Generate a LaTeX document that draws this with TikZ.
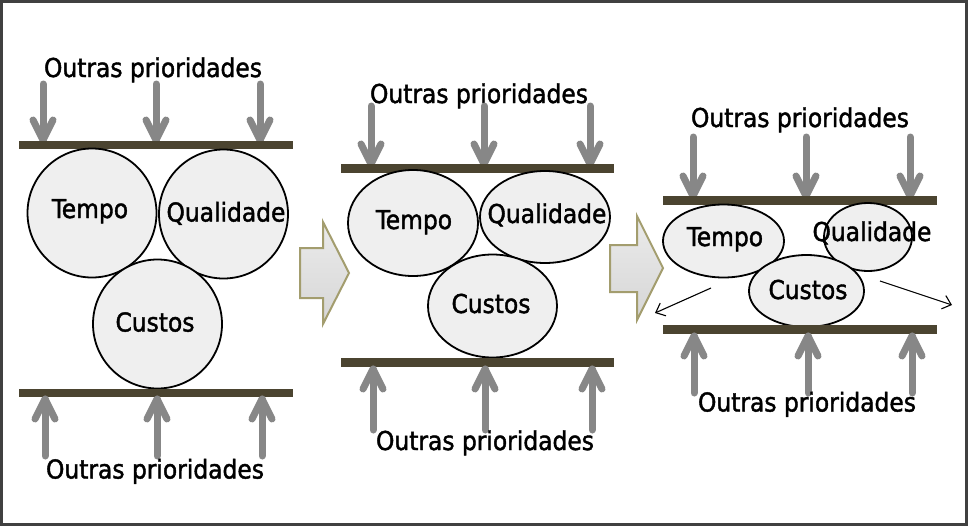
\documentclass[tikz,border=0pt]{standalone}
\usepackage{fontspec}
\newfontfamily\lab[FakeBold=1.6]{DejaVu Sans Condensed}
\usetikzlibrary{shapes.geometric,arrows.meta}
\definecolor{barc}{HTML}{4B4430}
\definecolor{arrc}{HTML}{878787}
\definecolor{ballc}{HTML}{EFEFEF}
\definecolor{framec}{HTML}{404040}
\definecolor{blockc}{HTML}{A39D6E}
\tikzset{
  bar/.style={barc, line width=8.5pt},
  ball/.style={ellipse, draw=black, line width=1.8pt, fill=ballc, inner sep=0pt},
  txt/.style={font=\lab\fontsize{26}{30}\selectfont, anchor=base, inner sep=0pt},
  itxt/.style={font=\lab\fontsize{26}{30}\selectfont, anchor=base, inner sep=0pt},
  push/.style={arrc, line width=7pt, line cap=round, line join=round},
  block/.style={draw=blockc, line width=2pt, top color=black!8, bottom color=black!16, line join=miter},
  thin/.style={black, line width=1.1pt, -{Straight Barb[length=8pt,width=14pt]}}
}
\newcommand{\downarr}[3]{\draw[push] (#1,#3) -- (#1,#2); \draw[push] (#1-10,#2-20) -- (#1,#2) -- (#1+10,#2-20);}
\newcommand{\uparr}[3]{\draw[push] (#1,#3) -- (#1,#2); \draw[push] (#1-10,#2+20) -- (#1,#2) -- (#1+10,#2+20);}
\begin{document}
\begin{tikzpicture}[x=1pt,y=-1pt]
\useasboundingbox (0,0) rectangle (970,528);
\fill[white] (0,0) rectangle (970,528);
\draw[framec, line width=3pt] (1.5,1.5) rectangle (966.5,524.5);

% ---------- Panel 1 ----------
\node[txt] (t1) at (153,77) {Outras prioridades};
\downarr{43}{140}{84}
\downarr{156}{140}{84}
\downarr{260}{140}{84}
\coordinate (b1l) at (19,145); \coordinate (b1r) at (293,145);
\draw[bar] (b1l) -- (b1r);
\node[ball, minimum width=129pt, minimum height=129pt] (tempo1) at (92,213) {};
\node[ball, minimum width=129pt, minimum height=129pt] (qual1) at (223.5,214) {};
\node[ball, minimum width=129pt, minimum height=129pt] (cust1) at (157.5,324) {};
\node[itxt] (tempo1t) at (90,218) {Tempo};
\node[itxt] (qual1t) at (226,221.5) {Qualidade};
\node[itxt] (cust1t) at (155,331.5) {Custos};
\coordinate (c1l) at (19,393); \coordinate (c1r) at (293,393);
\draw[bar] (c1l) -- (c1r);
\uparr{45}{399}{456}
\uparr{157}{399}{456}
\uparr{262}{399}{456}
\node[txt] (u1) at (155,478.5) {Outras prioridades};

% ---------- block arrows ----------
\draw[block] (300,248) -- (323,248) -- (323,222) -- (349,273) -- (323,324) -- (323,298) -- (300,298) -- cycle;
\draw[block] (610,245) -- (637,245) -- (637,216) -- (663,268) -- (637,320) -- (637,292) -- (610,292) -- cycle;

% ---------- Panel 2 ----------
\node[txt] (t2) at (479,103) {Outras prioridades};
\downarr{371}{164}{106}
\downarr{484}{164}{106}
\downarr{590}{164}{106}
\coordinate (b2l) at (341,168.5); \coordinate (b2r) at (614,168.5);
\draw[bar] (b2l) -- (b2r);
\node[ball, minimum width=130pt, minimum height=106pt] (tempo2) at (413,223) {};
\node[ball, minimum width=130pt, minimum height=92pt] (qual2) at (545,217) {};
\node[ball, minimum width=129pt, minimum height=103pt] (cust2) at (492.5,306) {};
\node[itxt] (tempo2t) at (414,229) {Tempo};
\node[itxt] (qual2t) at (547,223) {Qualidade};
\node[itxt] (cust2t) at (491,313) {Custos};
\coordinate (c2l) at (341,362.5); \coordinate (c2r) at (614,362.5);
\draw[bar] (c2l) -- (c2r);
\uparr{373}{369}{430}
\uparr{485}{369}{430}
\uparr{592}{369}{430}
\node[txt] (u2) at (485,450) {Outras prioridades};

% ---------- Panel 3 ----------
\node[txt] (t3) at (800,127) {Outras prioridades};
\downarr{693}{196}{137}
\downarr{806}{196}{137}
\downarr{910}{196}{137}
\coordinate (b3l) at (663,200.5); \coordinate (b3r) at (937,200.5);
\draw[bar] (b3l) -- (b3r);
\node[ball, minimum width=121pt, minimum height=73pt] (tempo3) at (723.5,241) {};
\node[ball, minimum width=88pt, minimum height=68pt] (qual3) at (868,237) {};
\node[ball, minimum width=115pt, minimum height=72pt] (cust3) at (806.5,291) {};
\node[itxt] (tempo3t) at (725,246) {Tempo};
\node[itxt] (qual3t) at (872,241) {Qualidade};
\node[itxt] (cust3t) at (808,299) {Custos};
\coordinate (c3l) at (663,329.5); \coordinate (c3r) at (937,329.5);
\draw[bar] (c3l) -- (c3r);
\uparr{694}{336}{393}
\uparr{808}{336}{393}
\uparr{912}{336}{393}
\node[txt] (u3) at (807,411.5) {Outras prioridades};
\coordinate (s1) at (711,288); \coordinate (e1) at (655,313);
\coordinate (s2) at (880,281); \coordinate (e2) at (952,305);
\draw[thin] (s1) -- (e1);
\draw[thin] (s2) -- (e2);
\end{tikzpicture}
\end{document}
